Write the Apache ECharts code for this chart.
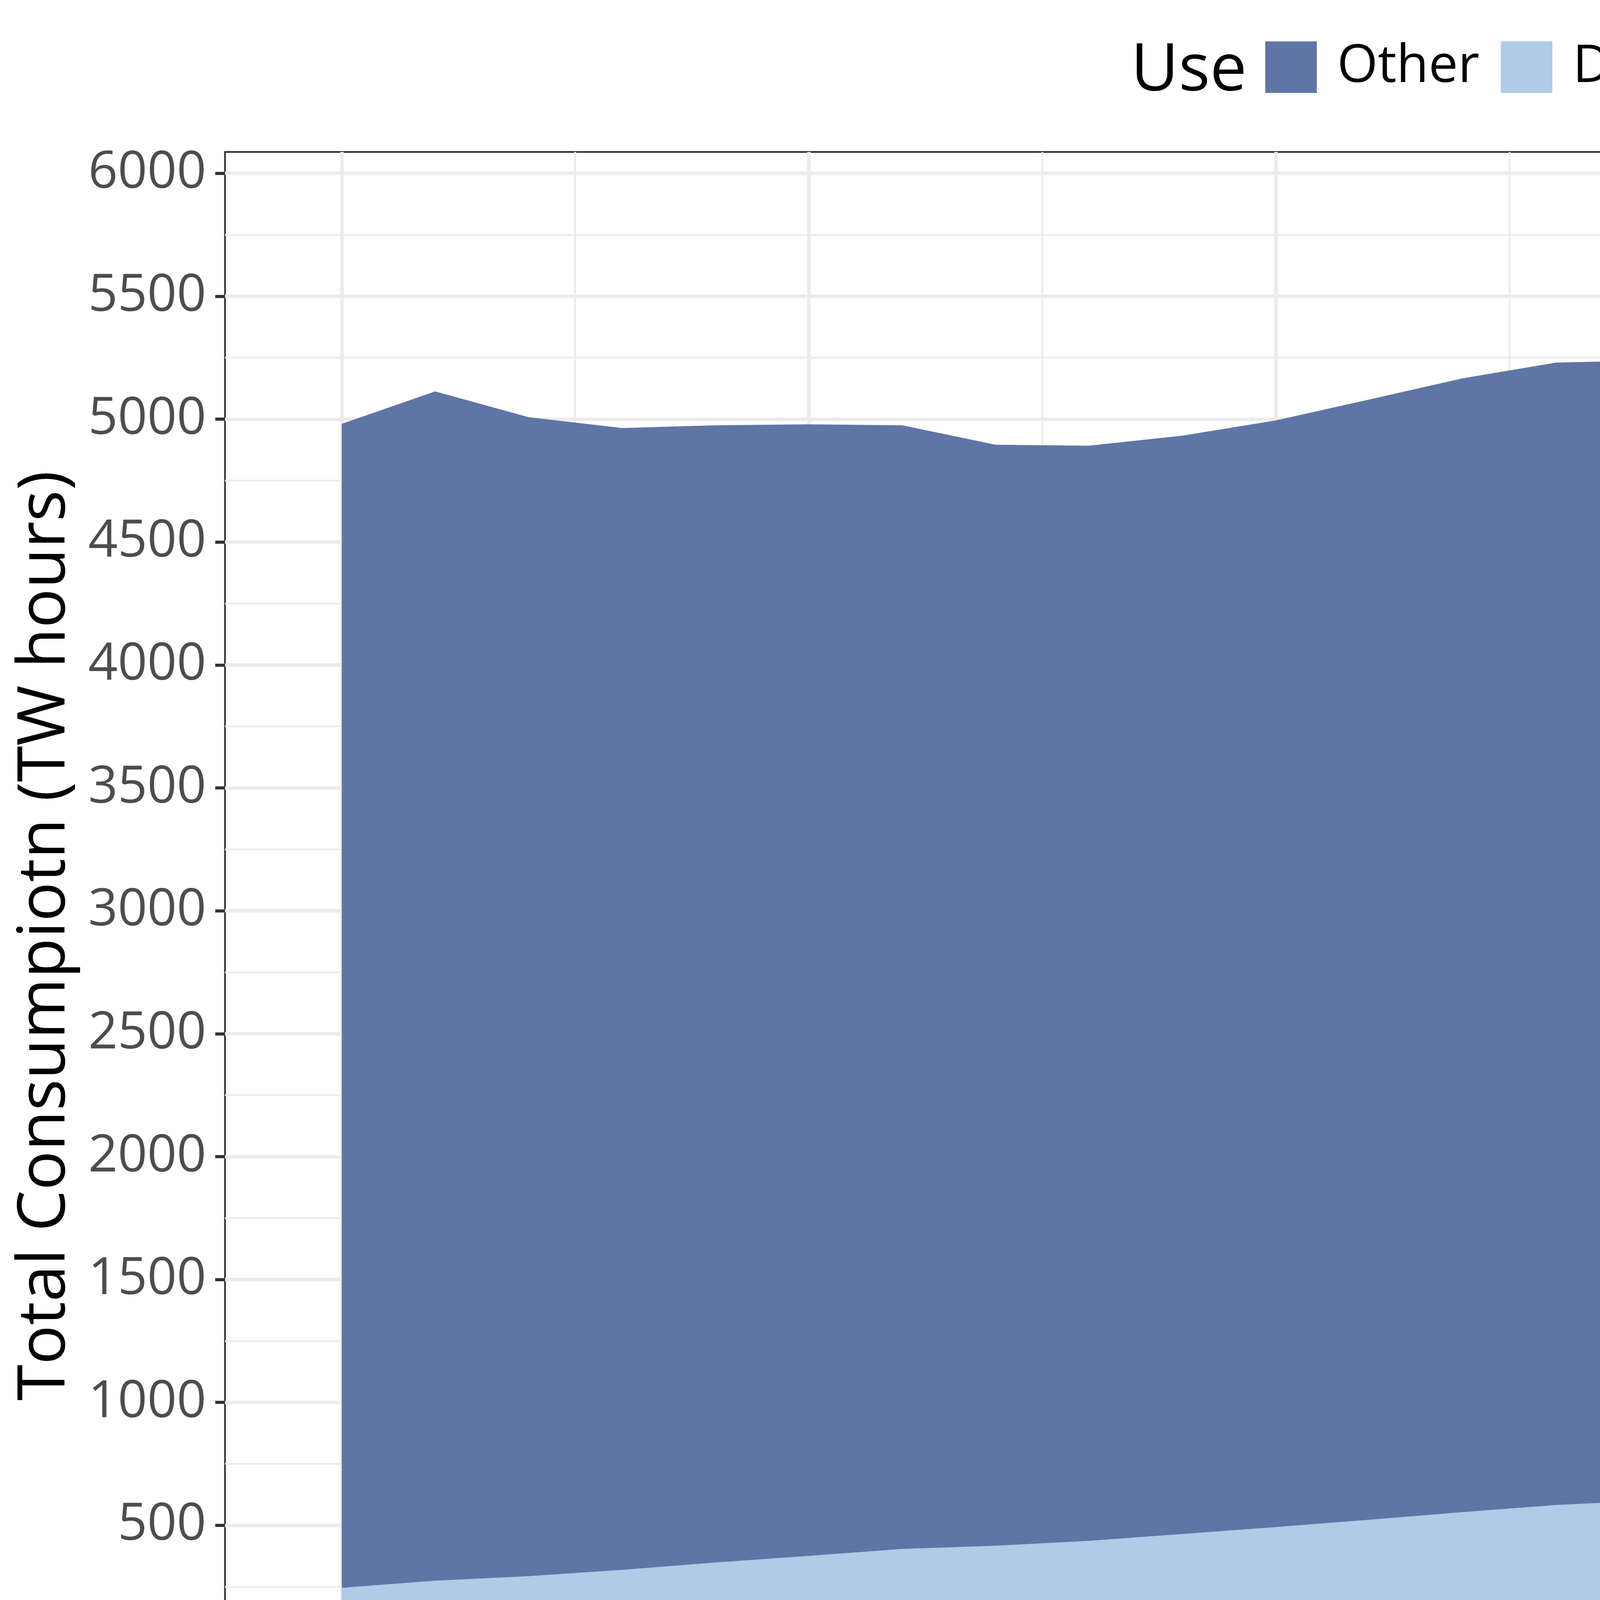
<!DOCTYPE html>
<html>
<head>
<meta charset="utf-8">
<script src="https://cdn.jsdelivr.net/npm/echarts@6/dist/echarts.min.js"></script>
<style>
  html, body { margin: 0; padding: 0; background: #fff; }
  #main { width: 7200px; height: 4800px; }
</style>
</head>
<body>
<div id="main"></div>
<script>
// data (TW hours)
const years = [2025, 2026, 2027, 2028, 2029, 2030, 2031, 2032, 2033, 2034, 2035, 2036, 2037,
  2038, 2039, 2040, 2041, 2042, 2043, 2044, 2045, 2046, 2047, 2048, 2049, 2050];
const dataCenters = [246, 275, 293, 319, 349, 376, 404, 417, 437, 465, 493, 523, 554,
  583, 601, 626, 652, 676, 702, 720, 740, 757, 771, 784, 797, 808];
const other = [4735, 4838, 4715, 4645, 4626, 4603, 4571, 4479, 4455, 4468, 4502, 4557, 4612,
  4647, 4638, 4667, 4709, 4742, 4786, 4810, 4836, 4867, 4900, 4933, 4965, 4989];

// tick positions
const xMajor = [2025, 2030, 2035, 2040, 2045, 2050];
const xMinor = [2027.5, 2032.5, 2037.5, 2042.5, 2047.5];
const yMajor = [0, 500, 1000, 1500, 2000, 2500, 3000, 3500, 4000, 4500, 5000, 5500, 6000];
const yMinor = [-250, 250, 750, 1250, 1750, 2250, 2750, 3250, 3750, 4250, 4750, 5250, 5750];

// stacked top of the "Other" band
const total = other.map((v, i) => v + dataCenters[i]);

const chart = echarts.init(document.getElementById('main'));

const major = { color: '#EBEBEB', width: 9, type: 'solid' };
const minor = { color: '#EBEBEB', width: 4.5, type: 'solid' };
const gridLines = []
  .concat(yMinor.map(v => ({ yAxis: v, lineStyle: minor })))
  .concat(xMinor.map(v => ({ xAxis: v, lineStyle: minor })))
  .concat(yMajor.map(v => ({ yAxis: v, lineStyle: major })))
  .concat(xMajor.map(v => ({ xAxis: v, lineStyle: major })));

const option = {
  animation: false,
  textStyle: { fontFamily: 'Open Sans' },
  title: {
    text: 'Use',
    left: 2895,
    top: 99,
    padding: 0,
    textStyle: { fontSize: 168, lineHeight: 168, fontWeight: 'normal', color: '#000', fontFamily: 'Open Sans' }
  },
  legend: {
    data: ['Other', 'Data Centers'],
    left: 3239,
    top: 105,
    padding: 0,
    icon: 'rect',
    itemWidth: 132,
    itemHeight: 132,
    itemGap: 55,
    textStyle: { fontSize: 134, lineHeight: 132, color: '#000', padding: [0, 0, 0, 47], fontFamily: 'Open Sans' }
  },
  grid: {
    left: 576,
    right: 48,
    top: 389,
    bottom: 398,
    show: true,
    borderColor: '#333333',
    borderWidth: 4.5,
    backgroundColor: '#fff'
  },
  xAxis: {
    type: 'value',
    min: 2023.75,
    max: 2051.25,
    name: 'year',
    nameLocation: 'middle',
    nameGap: 186,
    nameTextStyle: { fontSize: 168, lineHeight: 168, color: '#000' },
    axisLine: { show: false },
    axisTick: { show: true, length: 25, customValues: xMajor, lineStyle: { color: '#333333', width: 8 } },
    axisLabel: { customValues: xMajor, margin: 33, fontSize: 132, lineHeight: 132, color: '#4D4D4D',
      formatter: v => String(v) },
    splitLine: { show: false }
  },
  yAxis: {
    type: 'value',
    min: -290,
    max: 6087,
    name: 'Total Consumpiotn (TW hours)',
    nameLocation: 'middle',
    nameGap: 375,
    nameTextStyle: { fontSize: 168, lineHeight: 168, color: '#000' },
    axisLine: { show: false },
    axisTick: { show: true, length: 25, customValues: yMajor, lineStyle: { color: '#333333', width: 8 } },
    axisLabel: { customValues: yMajor, margin: 48, fontSize: 132, lineHeight: 132, color: '#4D4D4D',
      formatter: v => String(v) },
    splitLine: { show: false }
  },
  series: [
    {
      name: 'grid',
      type: 'line',
      z: 1,
      silent: true,
      data: [],
      markLine: {
        z: 1,
        silent: true,
        symbol: ['none', 'none'],
        label: { show: false },
        emphasis: { disabled: true },
        data: gridLines
      }
    },
    {
      name: 'Other',
      type: 'line',
      z: 2,
      showSymbol: false,
      lineStyle: { width: 0 },
      itemStyle: { color: '#5F75A5' },
      areaStyle: { color: '#5F75A5', opacity: 1, origin: 0 },
      data: years.map((y, i) => [y, total[i]])
    },
    {
      name: 'Data Centers',
      type: 'line',
      z: 3,
      showSymbol: false,
      lineStyle: { width: 0 },
      itemStyle: { color: '#B0CAE7' },
      areaStyle: { color: '#B0CAE7', opacity: 1, origin: 0 },
      data: years.map((y, i) => [y, dataCenters[i]])
    }
  ]
};

chart.setOption(option);
</script>
</body>
</html>
